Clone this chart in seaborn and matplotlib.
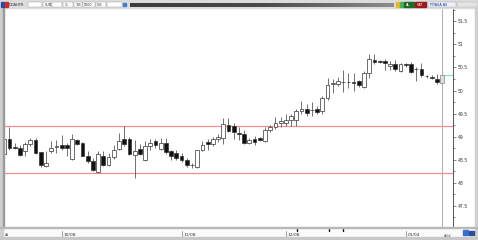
import numpy as np
import matplotlib
matplotlib.use("Agg")
import matplotlib.pyplot as plt
from matplotlib.patches import Rectangle
from matplotlib.colors import LinearSegmentedColormap
import seaborn as sns

# ---- data -------------------------------------------------------------
opens = [48.62, 48.95, 48.78, 48.75, 48.69, 48.84, 48.92, 48.66, 48.36, 48.68,
         48.78, 48.81, 48.81, 48.51, 48.92, 48.86, 48.59, 48.48, 48.23, 48.57,
         48.39, 48.55, 48.73, 48.95, 48.95, 48.60, 48.73, 48.50, 48.80, 48.91,
         48.74, 48.86, 48.68, 48.64, 48.57, 48.50, 48.38, 48.35, 48.71, 48.88,
         48.84, 48.95, 48.97, 49.26, 49.22, 49.07, 49.06, 48.86, 48.95, 48.97,
         48.90, 49.14, 49.21, 49.30, 49.30, 49.36, 49.37, 49.55, 49.60, 49.57,
         49.60, 49.55, 49.84, 50.15, 50.15, 50.19, 50.18, 50.18, 50.20, 50.08,
         50.37, 50.67, 50.63, 50.64, 50.53, 50.57, 50.42, 50.57, 50.57, 50.47,
         50.47, 50.32, 50.29, 50.26, 50.17]
highs = [49.06, 49.21, 48.86, 48.82, 48.88, 48.98, 48.97, 48.67, 48.68, 48.90,
         48.93, 49.03, 48.86, 49.06, 48.95, 48.89, 48.68, 48.53, 48.68, 48.68,
         48.64, 48.82, 49.07, 49.24, 49.00, 48.93, 48.85, 48.90, 48.95, 48.95,
         48.96, 48.97, 48.70, 48.70, 48.65, 48.53, 48.42, 48.72, 48.90, 48.95,
         49.00, 49.05, 49.41, 49.41, 49.30, 49.20, 49.15, 48.98, 49.02, 49.00,
         49.20, 49.26, 49.42, 49.42, 49.48, 49.50, 49.59, 49.77, 49.70, 49.74,
         49.66, 49.88, 50.27, 50.24, 50.30, 50.45, 50.38, 50.38, 50.23, 50.42,
         50.80, 50.80, 50.66, 50.68, 50.63, 50.66, 50.60, 50.60, 50.61, 50.52,
         50.60, 50.34, 50.33, 50.35, 50.34]
lows = [48.60, 48.72, 48.73, 48.57, 48.57, 48.80, 48.62, 48.35, 48.35, 48.64,
        48.64, 48.70, 48.57, 48.50, 48.82, 48.57, 48.42, 48.26, 48.22, 48.36,
        48.36, 48.52, 48.70, 48.80, 48.60, 48.10, 48.60, 48.48, 48.72, 48.75,
        48.70, 48.62, 48.50, 48.50, 48.45, 48.35, 48.33, 48.33, 48.68, 48.72,
        48.80, 48.88, 48.84, 49.10, 48.95, 48.92, 48.83, 48.83, 48.82, 48.90,
        48.88, 49.10, 49.16, 49.20, 49.22, 49.24, 49.23, 49.50, 49.44, 49.44,
        49.50, 49.48, 49.80, 49.95, 50.10, 49.97, 50.05, 49.98, 50.08, 50.05,
        50.28, 50.58, 50.60, 50.45, 50.45, 50.43, 50.40, 50.50, 50.37, 50.20,
        50.30, 50.28, 50.24, 50.14, 50.16]
closes = [48.95, 48.75, 48.75, 48.60, 48.84, 48.92, 48.64, 48.39, 48.42, 48.76,
          48.79, 48.75, 48.75, 48.95, 48.84, 48.59, 48.48, 48.28, 48.62, 48.39,
          48.55, 48.71, 48.90, 48.84, 48.62, 48.68, 48.63, 48.79, 48.86, 48.81,
          48.86, 48.66, 48.57, 48.53, 48.50, 48.39, 48.39, 48.71, 48.81, 48.84,
          48.95, 49.00, 49.28, 49.12, 49.09, 49.05, 48.86, 48.93, 48.88, 48.93,
          49.15, 49.21, 49.30, 49.33, 49.35, 49.44, 49.55, 49.60, 49.52, 49.58,
          49.54, 49.84, 50.13, 50.17, 50.20, 50.18, 50.19, 50.16, 50.11, 50.37,
          50.69, 50.62, 50.62, 50.59, 50.58, 50.46, 50.57, 50.55, 50.40, 50.46,
          50.33, 50.31, 50.27, 50.19, 50.33]
date_labels = ["10/08", "11/08", "12/08", "01/04"]
date_pos = [11, 34, 54, 77]
price_ticks = [47.5, 48.0, 48.5, 49.0, 49.5, 50.0, 50.5, 51.0, 51.5]
level_lines = [49.23, 48.22]
last_price = 50.33

# ---- figure -------------------------------------------------------------
sns.set_style("white")
plt.rcParams["font.family"] = ["DejaVu Sans"]

W, H = 478, 240
fig = plt.figure(figsize=(W / 100, H / 100), dpi=100)
fig.patch.set_facecolor("white")


def prect(x, y, w, h, **kw):
    fig.add_artist(Rectangle((x / W, 1 - (y + h) / H), w / W, h / H,
                             transform=fig.transFigure, **kw))


def ptext(x, y, s, **kw):
    fig.text(x / W, 1 - y / H, s, **kw)


# main axes: plot area from px x 3.5..453, y 7.5..227
ax = fig.add_axes([3.5 / W, 1 - 227 / H, (453 - 3.5) / W, (227 - 7.5) / H])
ax.set_facecolor("white")

n = len(opens)
x = np.arange(n)
o = np.array(opens); c = np.array(closes)
hi = np.array(highs); lo = np.array(lows)

ax.set_xlim(-0.15, 86.06)
ax.set_ylim(47.04, 51.80)

# level lines
for lv in level_lines:
    ax.axhline(lv, color="#f28c8c", lw=0.9, zorder=1)
# current-bar vertical line
ax.axvline(x[-1], color="#b4b4b4", lw=0.8, zorder=1)
# last price marker
ax.plot([x[-1] + 0.2, 86.06], [last_price, last_price], color="#8fe0e6", lw=0.9,
        zorder=1, solid_capstyle="butt")

# wicks
ax.vlines(x, lo, hi, color="#4a4a4a", lw=0.55, zorder=2)
# bodies
bottoms = np.minimum(o, c)
heights = np.maximum(np.abs(c - o), 0.012)
colors = ["white" if cc >= oo else "#111111" for oo, cc in zip(o, c)]
colors[-1] = "#dedede"
edges = ["#333333"] * n
edges[-1] = "#888888"
ax.bar(x, heights, bottom=bottoms, width=0.72, color=colors,
       edgecolor=edges, linewidth=0.5, zorder=3)

# right price axis
for s in ["top", "left", "bottom"]:
    ax.spines[s].set_visible(False)
ax.spines["right"].set_color("#555555")
ax.spines["right"].set_linewidth(0.7)
ax.yaxis.tick_right()
ax.set_yticks(price_ticks)
ax.set_yticklabels(["%g" % t for t in price_ticks], fontsize=3.3, color="#333333")
ax.set_yticks(np.arange(47.25, 51.8, 0.5), minor=True)
ax.tick_params(axis="y", which="major", length=2.5, width=0.5, pad=1, color="#555555")
ax.tick_params(axis="y", which="minor", length=1.5, width=0.5, color="#555555")

# date axis (bottom strip)
ax.set_xticks(date_pos)
ax.set_xticklabels([])
ax.tick_params(axis="x", length=0)
for p, lab in zip(date_pos, date_labels):
    ax.annotate(lab, xy=(p, 0), xycoords=("data", "axes fraction"),
                xytext=(1.2, -5.5), textcoords="offset points",
                fontsize=3.2, color="#333333", ha="left", va="center",
                annotation_clip=False)
    ax.annotate("", xy=(p, 0), xycoords=("data", "axes fraction"),
                xytext=(p, 0), annotation_clip=False)
    ax.plot([p, p], [-0.018, -0.045], transform=ax.get_xaxis_transform(),
            color="#777777", lw=0.5, clip_on=False)
for p in [56.2, 62.2, 65.0]:
    ax.plot([p, p], [-0.008, -0.02], transform=ax.get_xaxis_transform(),
            color="#111111", lw=1.0, clip_on=False)

# ---- window chrome ------------------------------------------------------
# top toolbar
prect(0, 0, W, 7.5, color="#dcdcdc", zorder=5)
g = fig.add_axes([130 / W, 1 - 7 / H, (394 - 130) / W, 4.5 / H], zorder=6)
cmap = LinearSegmentedColormap.from_list("bar", ["#3c3c3c", "#4a4a4a", "#8c8c8c"])
g.imshow(np.linspace(0, 1, 200)[None, :], cmap=cmap, aspect="auto")
g.axis("off")
prect(1, 2.5, 3, 4, color="#2b4aa0", zorder=6)
prect(4.5, 2.5, 3, 4, color="#c83030", zorder=6)
for bx, bw in [(28, 14), (43, 8), (52, 10), (63, 10), (74, 8), (83, 12), (96, 10), (107, 15)]:
    prect(bx, 2.5, bw, 4.5, facecolor="white", edgecolor="#999999", lw=0.3, zorder=6)
ptext(9, 4.8, "DOAHTR", fontsize=2.6, color="#333333", va="center", zorder=7)
ptext(45, 4.8, "SUB", fontsize=2.4, color="#333333", va="center", zorder=7)
ptext(65, 4.8, "G", fontsize=2.4, color="#333333", va="center", zorder=7)
ptext(76, 4.8, "1/B", fontsize=2.4, color="#333333", va="center", zorder=7)
ptext(84, 4.8, "5000", fontsize=2.4, color="#333333", va="center", zorder=7)
ptext(97, 4.8, "5/B", fontsize=2.4, color="#333333", va="center", zorder=7)
prect(123, 3, 3, 3, color="#3c7fd0", zorder=7)
prect(396, 2.5, 3, 4, color="#e8b830", zorder=6)
prect(400, 2.5, 3, 4, color="#4caf50", zorder=6)
prect(404, 2.5, 10, 4.5, color="#1f6b2a", zorder=6)
ptext(406, 4.8, "AL", fontsize=2.4, color="white", va="center", zorder=7)
prect(415, 2.5, 11, 4.5, color="#9b1b1b", zorder=6)
ptext(416.5, 4.8, "SAT", fontsize=2.4, color="white", va="center", zorder=7)
prect(428, 2.5, 28, 4.5, facecolor="#eef0f8", edgecolor="#9aa0c0", lw=0.3, zorder=6)
ptext(429.5, 4.8, "PİYASA AS", fontsize=2.4, color="#1a2f8a", va="center", zorder=7)
prect(457, 2.5, 20, 4.5, facecolor="#e4e4e4", edgecolor="#b0b0b0", lw=0.3, zorder=6)

# left frame
prect(0, 7.5, 3, H - 7.5, color="#cfcfcf", zorder=5)
prect(3, 7.5, 0.6, 220, color="#9a9a9a", zorder=5)
# right frame
prect(475, 7.5, 3, H - 7.5, color="#cfcfcf", zorder=5)
# bottom strip
prect(0, 227, W, 1, color="#b8b8b8", zorder=5)
prect(3, 228, 472, 9, color="#fafafa", zorder=0)
prect(0, 237, W, 3, color="#c8c8c8", zorder=5)
ptext(5, 235.5, "Ad", fontsize=2.4, color="#555555", va="center")
ptext(444, 235.5, "Aylık", fontsize=2.4, color="#555555", va="center")
prect(463, 230, 5, 5, color="#3a6fc8", zorder=6)
prect(469, 231, 5, 4, color="#2a4f98", zorder=6)

fig.savefig("out.png", dpi=100, facecolor=fig.get_facecolor())
